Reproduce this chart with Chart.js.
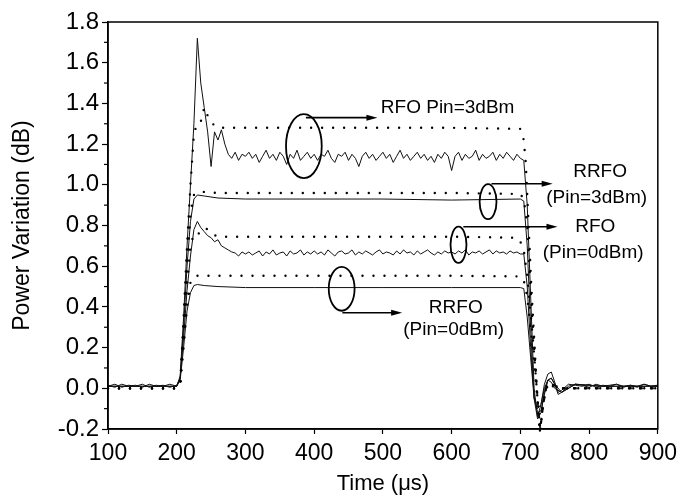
<!DOCTYPE html>
<html lang="en">
<head>
<meta charset="UTF-8">
<title>Power Variation</title>
<style>
    body { margin: 0; background: #fff; }
    .wrap { width: 683px; height: 500px; }
</style>
</head>
<body>
<div class="wrap"><canvas id="chart"></canvas></div>

<script src="https://cdn.jsdelivr.net/npm/chart.js"></script>
<script>
// measured traces (noisy) share one time grid, in microseconds
const tMeas = [100,110,120,130,140,150,160,170,180,190,200,
    205,210,215,220,225,230,235,240,245,250,255,260,265,270,275,280,285,290,295,300,
    305,310,315,320,325,330,335,340,345,350,355,360,365,370,375,380,385,390,395,400,
    405,410,415,420,425,430,435,440,445,450,455,460,465,470,475,480,485,490,495,500,
    505,510,515,520,525,530,535,540,545,550,555,560,565,570,575,580,585,590,595,600,
    605,610,615,620,625,630,635,640,645,650,655,660,665,670,675,680,685,690,695,700,
    705,710,715,720,725,730,735,740,745,750,755,760,
    770,780,790,800,810,820,830,840,850,860,870,880,890,900];

// RFO, Pin=3dBm, measured
const rfo3Meas = [0.01,0.02,0.005,0.015,0.01,0.02,0.005,0.015,0.01,0.02,0.01,
    0.06,0.35,0.7,1.0,1.3,1.72,1.5,1.38,1.26,1.09,1.26,1.22,1.27,1.2,1.15,1.13,1.16,1.12,1.15,1.14,
    1.16,1.13,1.15,1.11,1.14,1.17,1.13,1.15,1.12,1.16,1.14,1.10,1.15,1.13,1.17,1.12,1.14,1.16,1.13,1.15,
    1.12,1.15,1.14,1.17,1.13,1.11,1.15,1.14,1.16,1.12,1.15,1.13,1.09,1.14,1.16,1.13,1.15,1.12,1.14,1.16,
    1.13,1.15,1.11,1.14,1.17,1.13,1.15,1.12,1.14,1.16,1.13,1.15,1.12,1.14,1.11,1.15,1.13,1.16,1.14,1.07,
    1.14,1.16,1.12,1.15,1.13,1.14,1.17,1.12,1.15,1.13,1.14,1.16,1.12,1.15,1.13,1.16,1.14,1.12,1.15,1.13,
    1.12,0.9,0.45,0.0,-0.14,-0.08,0.02,0.07,0.08,0.03,-0.02,-0.01,
    0.02,0.015,0.01,0.02,0.005,0.015,0.01,0.02,0.01,0.015,0.005,0.02,0.01,0.015];

// RFO, Pin=0dBm, measured
const rfo0Meas = [0.015,0.005,0.02,0.01,0.015,0.005,0.02,0.01,0.015,0.005,0.015,
    0.05,0.25,0.48,0.65,0.78,0.82,0.79,0.77,0.75,0.74,0.72,0.73,0.70,0.69,0.68,0.67,0.665,0.65,0.67,0.66,
    0.67,0.655,0.665,0.675,0.65,0.67,0.66,0.68,0.655,0.665,0.67,0.65,0.675,0.66,0.665,0.68,0.655,0.67,0.66,0.675,
    0.66,0.67,0.655,0.68,0.665,0.65,0.67,0.675,0.66,0.665,0.68,0.655,0.67,0.66,0.675,0.665,0.655,0.67,0.68,0.66,
    0.67,0.665,0.655,0.675,0.66,0.68,0.665,0.67,0.655,0.675,0.66,0.67,0.68,0.665,0.655,0.67,0.66,0.675,0.665,0.67,
    0.66,0.675,0.665,0.68,0.655,0.67,0.665,0.675,0.66,0.67,0.68,0.66,0.675,0.665,0.67,0.66,0.675,0.665,0.67,0.66,
    0.66,0.5,0.2,-0.04,-0.12,-0.11,-0.03,0.04,0.05,0.02,-0.03,-0.02,
    0.01,0.02,0.015,0.005,0.02,0.01,0.015,0.02,0.005,0.015,0.01,0.02,0.01,0.015];

// RRFO traces, measured (smooth)
const tRrfo = [100,150,200,205,210,215,220,225,230,240,260,300,400,500,600,700,705,710,715,720,725,730,735,740,745,750,760,780,820,900];
const rrfo3Meas = [0.01,0.01,0.01,0.05,0.3,0.6,0.82,0.93,0.95,0.945,0.935,0.93,0.93,0.93,0.925,0.93,0.92,0.7,0.3,-0.05,-0.15,-0.12,-0.02,0.04,0.05,0.02,-0.02,0.02,0.01,0.01];
const rrfo0Meas = [0.01,0.01,0.01,0.04,0.2,0.38,0.47,0.505,0.51,0.505,0.5,0.495,0.495,0.495,0.495,0.495,0.49,0.35,0.15,-0.05,-0.1,-0.08,0.0,0.04,0.03,0.0,-0.02,0.02,0.01,0.01];

// simulated traces (dotted)
const tSimRfo3 = [100,200,205,210,215,220,225,230,235,240,245,250,255,260,300,400,500,600,700,705,708,712,716,720,724,728,732,736,742,750,770,900];
const simRfo3 = [0,0,0.02,0.35,0.7,1.0,1.25,1.305,1.31,1.38,1.34,1.31,1.29,1.28,1.28,1.28,1.28,1.28,1.275,1.22,1.1,0.8,0.5,0.25,0.0,-0.22,-0.12,-0.02,0.03,0.0,0.0,0.0];
const tSimRrfo3 = [100,200,205,210,215,220,225,230,240,260,300,400,500,600,700,705,710,714,718,722,726,729,733,738,745,760,900];
const simRrfo3 = [0,0,0.02,0.3,0.6,0.85,0.95,0.965,0.965,0.96,0.96,0.96,0.96,0.96,0.955,0.93,0.8,0.55,0.3,0.1,-0.1,-0.2,-0.08,0.01,0.02,0,0];
const tSimRfo0 = [100,200,205,210,215,220,225,230,235,240,245,250,260,300,400,500,600,695,700,705,710,714,718,722,726,729,733,738,745,760,900];
const simRfo0 = [0,0,0.02,0.25,0.5,0.7,0.76,0.755,0.77,0.79,0.78,0.76,0.745,0.745,0.745,0.745,0.745,0.74,0.72,0.68,0.55,0.4,0.25,0.08,-0.1,-0.2,-0.08,0.01,0.02,0,0];
const tSimRrfo0 = [100,200,205,210,215,220,225,230,240,300,400,500,600,700,705,710,714,718,722,726,729,733,738,745,760,900];
const simRrfo0 = [0,0,0.02,0.2,0.4,0.52,0.55,0.553,0.553,0.553,0.553,0.553,0.553,0.55,0.53,0.45,0.32,0.2,0.05,-0.1,-0.2,-0.08,0.01,0.02,0,0];

// annotations, in data units (time, dB)
const ellipses = [
    { t: 385, v: 1.19, rt: 26, rv: 0.157 },
    { t: 653, v: 0.917, rt: 12.3, rv: 0.086 },
    { t: 610, v: 0.705, rt: 11.6, rv: 0.089 },
    { t: 440, v: 0.489, rt: 18.8, rv: 0.108 }
];
const arrows = [
    { t0: 388, t1: 492, v: 1.33 },
    { t0: 658, t1: 747, v: 1.005 },
    { t0: 617, t1: 754, v: 0.794 },
    { t0: 441, t1: 528, v: 0.371 }
];
const notes = [
    { t: 497, v: 1.379, text: 'RFO Pin=3dBm', align: 'left' },
    { t: 816, v: 1.064, text: 'RRFO', align: 'center' },
    { t: 811, v: 0.937, text: '(Pin=3dBm)', align: 'center' },
    { t: 809, v: 0.794, text: 'RFO', align: 'center' },
    { t: 806, v: 0.666, text: '(Pin=0dBm)', align: 'center' },
    { t: 606, v: 0.395, text: 'RRFO', align: 'center' },
    { t: 603, v: 0.287, text: '(Pin=0dBm)', align: 'center' }
];

const FONT = '"Liberation Sans", Arial, Helvetica, sans-serif';

function pts(ts, vs) {
    return ts.map((t, i) => ({ x: t, y: vs[i] }));
}

function solid(ts, vs) {
    return { data: pts(ts, vs), borderColor: '#111', borderWidth: 1, pointRadius: 0, tension: 0 };
}

function dotted(ts, vs) {
    return {
        data: pts(ts, vs), borderColor: '#000', borderWidth: 2.4, borderDash: [0, 11],
        borderCapStyle: 'round', pointRadius: 0, tension: 0, clip: false
    };
}

// frame, minor ticks and callouts
const decorations = {
    id: 'decorations',
    afterDatasetsDraw(chart) {
        const { ctx, chartArea: a, scales: { x, y } } = chart;
        ctx.save();
        ctx.strokeStyle = '#000';

        ctx.lineWidth = 1.5;
        ctx.strokeRect(a.left, a.top, a.right - a.left, a.bottom - a.top);

        // minor ticks on y
        ctx.lineWidth = 1.2;
        const major = y.ticks.map(t => t.value);
        for (let i = 0; i < major.length - 1; i++) {
            const py = y.getPixelForValue((major[i] + major[i + 1]) / 2);
            ctx.beginPath();
            ctx.moveTo(a.left - 4, py);
            ctx.lineTo(a.left, py);
            ctx.stroke();
        }

        ctx.lineWidth = 1.8;
        ellipses.forEach(e => {
            const cx = x.getPixelForValue(e.t), cy = y.getPixelForValue(e.v);
            const rx = x.getPixelForValue(e.t + e.rt) - cx;
            const ry = cy - y.getPixelForValue(e.v + e.rv);
            ctx.beginPath();
            ctx.ellipse(cx, cy, rx, ry, 0, 0, Math.PI * 2);
            ctx.stroke();
        });

        ctx.lineWidth = 1.6;
        ctx.fillStyle = '#000';
        arrows.forEach(r => {
            const x0 = x.getPixelForValue(r.t0), x1 = x.getPixelForValue(r.t1);
            const py = y.getPixelForValue(r.v);
            ctx.beginPath();
            ctx.moveTo(x0, py);
            ctx.lineTo(x1 - 8, py);
            ctx.stroke();
            ctx.beginPath();
            ctx.moveTo(x1, py);
            ctx.lineTo(x1 - 11, py - 3);
            ctx.lineTo(x1 - 11, py + 3);
            ctx.closePath();
            ctx.fill();
        });

        ctx.font = '19px ' + FONT;
        ctx.textBaseline = 'middle';
        notes.forEach(n => {
            ctx.textAlign = n.align;
            ctx.fillText(n.text, x.getPixelForValue(n.t), y.getPixelForValue(n.v));
        });
        ctx.restore();
    }
};

new Chart(document.getElementById('chart'), {
    type: 'line',
    data: {
        datasets: [
            dotted(tSimRfo3, simRfo3),
            dotted(tSimRrfo3, simRrfo3),
            dotted(tSimRfo0, simRfo0),
            dotted(tSimRrfo0, simRrfo0),
            solid(tMeas, rfo3Meas),
            solid(tRrfo, rrfo3Meas),
            solid(tMeas, rfo0Meas),
            solid(tRrfo, rrfo0Meas)
        ]
    },
    options: {
        responsive: true,
        maintainAspectRatio: false,
        animation: false,
        layout: { padding: { top: 22, right: 23, bottom: 0, left: 0 } },
        plugins: { legend: { display: false }, tooltip: { enabled: false } },
        scales: {
            x: {
                type: 'linear',
                min: 100, max: 900,
                afterFit(s) { s.height = 71; },
                ticks: { stepSize: 100, color: '#000', padding: 6, font: { family: FONT, size: 23 } },
                grid: { drawOnChartArea: false, tickLength: 5, color: '#000', tickWidth: 1.2 },
                border: { color: '#000', width: 1.5 },
                title: { display: true, text: 'Time (\u03bcs)', color: '#000', font: { family: FONT, size: 22 }, padding: { top: 0, bottom: 3 } }
            },
            y: {
                min: -0.2, max: 1.8,
                afterFit(s) { s.width = 108; },
                ticks: {
                    stepSize: 0.2, color: '#000', padding: 3, font: { family: FONT, size: 24 },
                    callback: v => v.toFixed(1)
                },
                grid: { drawOnChartArea: false, tickLength: 6, color: '#000', tickWidth: 1.2 },
                border: { color: '#000', width: 1.5 },
                title: { display: true, text: 'Power Variation (dB)', color: '#000', font: { family: FONT, size: 23 }, padding: { top: 9, bottom: 0 } }
            }
        }
    },
    plugins: [decorations]
});
</script>
</body>
</html>
